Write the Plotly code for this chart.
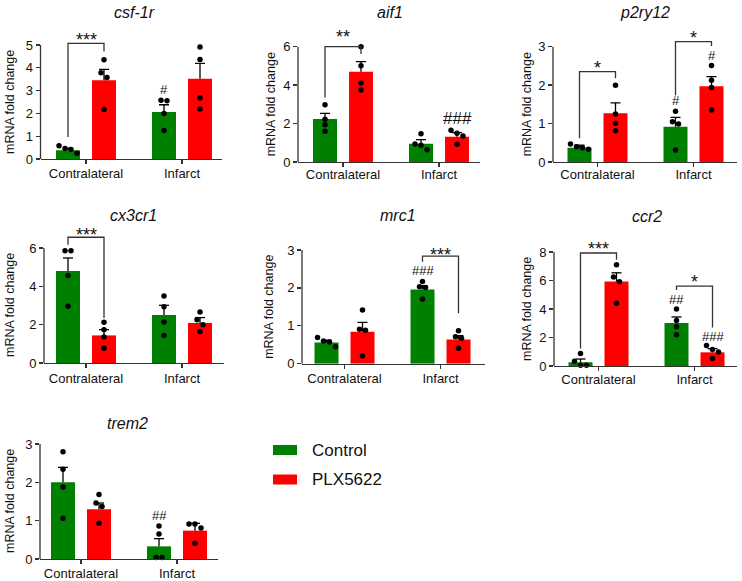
import numpy as np
import plotly.graph_objects as go

W, H = 742, 581
FONT = "Liberation Sans, Arial, Helvetica, sans-serif"
GREEN = "#008000"
RED = "#FF0000"
AXC = "#333333"

categories = ["Contralateral", "Infarct"]
groups = ["Control", "PLX5622"]
genes = ["csf-1r", "aif1", "p2ry12", "cx3cr1", "mrc1", "ccr2", "trem2"]

# bar order in each list: [Control-Contralateral, PLX5622-Contralateral, Control-Infarct, PLX5622-Infarct]
csf1r_mean = [0.38, 3.45, 2.06, 3.52]
csf1r_sem = [0.10, 0.48, 0.32, 0.67]
csf1r_dots = [[0.58, 0.46, 0.42, 0.25], [4.35, 3.78, 3.58, 2.17], [2.58, 2.55, 2.00, 1.25], [4.91, 4.36, 2.68, 2.19]]

aif1_mean = [2.24, 4.70, 0.95, 1.32]
aif1_sem = [0.29, 0.52, 0.21, 0.21]
aif1_dots = [[2.98, 2.22, 1.94, 1.60], [6.00, 5.01, 4.11, 3.75], [1.47, 0.94, 0.87, 0.64], [1.65, 1.49, 1.35, 0.92]]

p2ry12_mean = [0.37, 1.27, 0.92, 1.97]
p2ry12_sem = [0.07, 0.27, 0.24, 0.25]
p2ry12_dots = [[0.47, 0.40, 0.37, 0.33], [2.00, 1.25, 1.01, 0.81], [1.32, 1.05, 0.99, 0.31], [2.51, 2.13, 1.94, 1.35]]

cx3cr1_mean = [4.80, 1.44, 2.50, 2.09]
cx3cr1_sem = [0.68, 0.30, 0.51, 0.28]
cx3cr1_dots = [[5.86, 5.86, 4.56, 2.96], [2.12, 1.74, 1.36, 0.77], [3.50, 2.93, 2.14, 1.43], [2.66, 2.26, 2.00, 1.65]]

mrc1_mean = [0.56, 0.84, 1.96, 0.64]
mrc1_sem = [0.06, 0.25, 0.10, 0.10]
mrc1_dots = [[0.69, 0.60, 0.57, 0.45], [1.42, 0.91, 0.88, 0.20], [2.17, 2.03, 2.01, 1.71], [0.87, 0.71, 0.67, 0.41]]

ccr2_mean = [0.26, 5.93, 3.01, 0.96]
ccr2_sem = [0.23, 0.61, 0.43, 0.26]
ccr2_dots = [[0.87, 0.33, 0.05, 0.05], [7.10, 6.24, 5.91, 4.40], [4.00, 3.20, 2.75, 2.19], [1.44, 1.15, 0.99, 0.52]]

trem2_mean = [2.00, 1.30, 0.33, 0.74]
trem2_sem = [0.39, 0.16, 0.20, 0.19]
trem2_dots = [[2.80, 2.34, 1.88, 1.06], [1.68, 1.46, 1.37, 0.93], [0.86, 0.65, 0.04, 0.04], [0.91, 0.91, 0.81, 0.41]]

# significance brackets: (bar a, bar b, bracket top, leg a bottom, leg b bottom, label, label centre)
csf1r_sig = [(0, 1, 5.07, 0.97, 4.72, "***", 5.43)]
aif1_sig = [(0, 1, 6.00, 3.36, 5.62, "**", 6.78)]
p2ry12_sig = [(0, 1, 2.35, 0.62, 2.18, "*", 2.57), (2, 3, 3.13, 1.74, 3.02, "*", 3.35)]
cx3cr1_sig = [(0, 1, 6.56, 6.17, 2.35, "***", 6.96)]
mrc1_sig = [(2, 3, 2.84, 2.69, 1.33, "***", 3.00)]
ccr2_sig = [(0, 1, 7.93, 1.22, 7.46, "***", 8.56), (2, 3, 5.60, 5.34, 2.71, "*", 6.24)]
trem2_sig = []

# hash marks vs contralateral: (bar, label centre, label)
csf1r_hash = [(2, 3.04, "#")]
aif1_hash = [(3, 2.27, "###")]
p2ry12_hash = [(2, 1.61, "#"), (3, 2.78, "#")]
cx3cr1_hash = []
mrc1_hash = [(2, 2.47, "###")]
ccr2_hash = [(2, 4.68, "##"), (3, 2.05, "###")]
trem2_hash = [(2, 1.14, "##")]

means = [csf1r_mean, aif1_mean, p2ry12_mean, cx3cr1_mean, mrc1_mean, ccr2_mean, trem2_mean]
sems = [csf1r_sem, aif1_sem, p2ry12_sem, cx3cr1_sem, mrc1_sem, ccr2_sem, trem2_sem]
dots = [csf1r_dots, aif1_dots, p2ry12_dots, cx3cr1_dots, mrc1_dots, ccr2_dots, trem2_dots]
sigs = [csf1r_sig, aif1_sig, p2ry12_sig, cx3cr1_sig, mrc1_sig, ccr2_sig, trem2_sig]
hashes = [csf1r_hash, aif1_hash, p2ry12_hash, cx3cr1_hash, mrc1_hash, ccr2_hash, trem2_hash]
y_max = [5, 6, 3, 6, 3, 8, 3]
y_step = [1, 2, 1, 2, 1, 2, 1]

# ---- layout geometry (pixels) ----
panels = [
    dict(x0=40.5, x1=222, ybot=159, ytop=45, off0=45.5, tx=134, ty=12, ytx=10, hs=13, ls=-2),
    dict(x0=298, x1=480, ybot=162, ytop=46.7, off0=45, tx=390, ty=12, ytx=271, hs=17, ls=-4),
    dict(x0=553, x1=737, ybot=162, ytop=46.7, off0=44.5, tx=645, ty=12, ytx=527, hs=13, ls=-4),
    dict(x0=44, x1=224, ybot=363, ytop=248, off0=42, tx=133.5, ty=215, ytx=9.5, hs=13, ls=-1),
    dict(x0=302, x1=485, ybot=363.7, ytop=250, off0=42.5, tx=398.5, ty=215, ytx=269, hs=13, ls=-2),
    dict(x0=554, x1=737, ybot=366, ytop=252, off0=44.5, tx=647, ty=216, ytx=527, hs=13, ls=-3),
    dict(x0=40, x1=218, ybot=559, ytop=444, off0=41, tx=127.5, ty=423, ytx=9.5, hs=13, ls=-2),
]
SP = 96.0          # px per category
BW = 24 / SP       # bar width
BO = 18 / SP       # bar offset from category centre
HEAD = 14          # px of headroom above top tick


def bar_x(i):
    return (i // 2) + (-BO if i % 2 == 0 else BO)


def swarm(vals, pxu, thr=5.0, step=6.0):
    order = sorted(range(len(vals)), key=lambda j: -vals[j])
    clusters, cur = [], [order[0]]
    for j in order[1:]:
        if abs(vals[cur[-1]] - vals[j]) * pxu < thr:
            cur.append(j)
        else:
            clusters.append(cur)
            cur = [j]
    clusters.append(cur)
    offs = [0.0] * len(vals)
    for c in clusters:
        k = len(c)
        for m, j in enumerate(c):
            offs[j] = (m - (k - 1) / 2) * step / SP
    return offs


def px(x):
    return x / W


def py(y):
    return 1 - y / H


fig = go.Figure()
shapes, annos = [], []
for k, g in enumerate(genes):
    n = k + 1
    xa = "x" if n == 1 else f"x{n}"
    ya = "y" if n == 1 else f"y{n}"
    P = panels[k]
    pxu = (P["ybot"] - P["ytop"]) / y_max[k]
    yhi = (P["ybot"] - P["ytop"] + HEAD) / pxu
    xlo = -P["off0"] / SP
    xhi = (P["x1"] - P["x0"] - P["off0"]) / SP

    def vy(v):
        return py(P["ybot"] - v * pxu)

    fig.update_layout(**{
        ("xaxis" if n == 1 else f"xaxis{n}"): dict(
            domain=[px(P["x0"]), px(P["x1"])], anchor=ya, range=[xlo, xhi], automargin=False,
            tickvals=[0, 1], ticktext=categories, showline=True, linecolor=AXC,
            linewidth=1.3, ticks="outside", ticklen=4, tickwidth=1.3, tickcolor=AXC,
            ticklabelstandoff=P["ls"], fixedrange=True,
            showgrid=False, zeroline=False, tickfont=dict(size=13, color="#111", family=FONT)),
        ("yaxis" if n == 1 else f"yaxis{n}"): dict(
            domain=[py(P["ybot"]), py(P["ytop"] - HEAD)], anchor=xa, range=[0, yhi], automargin=False,
            tickvals=list(range(0, y_max[k] + 1, y_step[k])), showline=False, fixedrange=True,
            ticks="outside", ticklen=4, tickwidth=1.3, tickcolor=AXC,
            showgrid=False, zeroline=False, tickfont=dict(size=13, color="#111", family=FONT)),
    })

    mu, se, dd = means[k], sems[k], dots[k]
    for grp, col in enumerate([GREEN, RED]):
        idx = [grp, grp + 2]
        fig.add_trace(go.Bar(
            x=[bar_x(i) for i in idx], y=[mu[i] for i in idx], width=BW,
            marker=dict(color=col, line=dict(width=0)), name=groups[grp],
            xaxis=xa, yaxis=ya, showlegend=False, hoverinfo="skip"))

    ex, ey = [], []
    cw = 5 / SP
    for i in range(4):
        xc = bar_x(i)
        top = mu[i] + se[i]
        ex += [xc, xc, None, xc - cw, xc + cw, None]
        ey += [mu[i], top, None, top, top, None]
    fig.add_trace(go.Scatter(x=ex, y=ey, mode="lines", line=dict(color="black", width=1.3),
                             xaxis=xa, yaxis=ya, showlegend=False, hoverinfo="skip"))

    dx, dy = [], []
    for i in range(4):
        offs = swarm(dd[i], pxu)
        dx += [bar_x(i) + o for o in offs]
        dy += dd[i]
    fig.add_trace(go.Scatter(x=dx, y=dy, mode="markers", marker=dict(color="black", size=5.5),
                             cliponaxis=False, xaxis=xa, yaxis=ya, showlegend=False, hoverinfo="skip"))

    for (a, b, top, ba, bb, lab, ly) in sigs[k]:
        xa_, xb_ = bar_x(a), bar_x(b)
        fig.add_trace(go.Scatter(x=[xa_, xa_, xb_, xb_], y=[ba, top, top, bb], mode="lines",
                                 line=dict(color=AXC, width=1.3), xaxis=xa, yaxis=ya,
                                 showlegend=False, hoverinfo="skip"))
        annos.append(dict(x=(xa_ + xb_) / 2, y=vy(ly), xref=xa, yref="paper", text=lab, showarrow=False,
                          yanchor="middle", yshift=-5, font=dict(size=18, color="#111", family=FONT)))

    for (i, ly, lab) in hashes[k]:
        annos.append(dict(x=bar_x(i), y=vy(ly), xref=xa, yref="paper", text=lab, showarrow=False,
                          yanchor="middle", font=dict(size=P["hs"], color="#111", family=FONT)))

    shapes.append(dict(type="line", xref=f"{xa} domain", yref=ya, x0=0, x1=0, y0=0, y1=y_max[k],
                       line=dict(color=AXC, width=1.3)))

    annos.append(dict(x=px(P["tx"]), y=py(P["ty"]), xref="paper", yref="paper",
                      text=f"<i>{g}</i>", showarrow=False, xanchor="center", yanchor="middle",
                      font=dict(size=16, color="#111", family=FONT)))
    annos.append(dict(x=px(P["ytx"]), y=py((P["ybot"] + P["ytop"]) / 2), xref="paper", yref="paper",
                      text="mRNA fold change", textangle=-90, showarrow=False,
                      xanchor="center", yanchor="middle", font=dict(size=12.5, color="#111", family=FONT)))

# legend
legend_y = [450, 479.5]
for grp, col in enumerate([GREEN, RED]):
    shapes.append(dict(type="rect", xref="paper", yref="paper", x0=px(273), x1=px(297),
                       y0=py(legend_y[grp] + 5), y1=py(legend_y[grp] - 5),
                       fillcolor=col, line=dict(width=0)))
    annos.append(dict(x=px(310), y=py(legend_y[grp]), xref="paper", yref="paper", text=groups[grp],
                      showarrow=False, xanchor="left", yanchor="middle",
                      font=dict(size=17, color="#111", family=FONT)))

fig.update_layout(
    width=W, height=H, margin=dict(l=0, r=0, t=0, b=0, autoexpand=False),
    paper_bgcolor="white", plot_bgcolor="white", barmode="overlay",
    showlegend=False, shapes=shapes, annotations=annos, hovermode=False,
    font=dict(family=FONT, color="#111"),
)
fig.write_html("out.html", config={"displayModeBar": False, "staticPlot": True},
               post_script="document.body.style.margin='0px';document.body.style.overflow='hidden';")
